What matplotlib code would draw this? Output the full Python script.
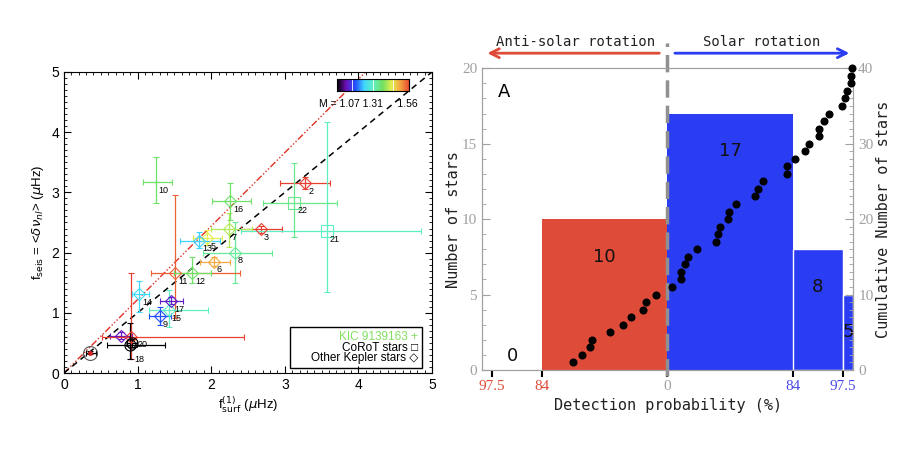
import matplotlib
matplotlib.use('Agg')
import matplotlib.pyplot as plt
from matplotlib.colors import LinearSegmentedColormap, Normalize
from matplotlib.patches import Rectangle
import numpy as np

# ---- left panel: seismic vs surface splitting ----
star_ids = ['1', '2', '3', '4', '5', '6', '7', '8', '9', '10', '11', '12',
            '13', '14', '15', '16', '17', '18', '20', 'sun', '21', '22']
star_kind = ['K', 'K', 'K', 'K', 'K', 'K', 'K', 'K', 'K', 'KIC', 'K', 'K',
             'K', 'K', 'K', 'K', 'K', 'O', 'O', 'S', 'C', 'C']
f_surf = [0.78, 3.28, 2.68, 0.91, 1.94, 2.04, 2.24, 2.32, 1.30, 1.25, 1.51, 1.74,
          1.84, 1.02, 1.42, 2.26, 1.46, 0.90, 0.92, 0.36, 3.57, 3.13]
f_surf_lo = [0.62, 2.94, 2.41, 0.52, 1.75, 1.85, 2.00, 1.89, 1.15, 1.07, 1.18, 1.50,
             1.57, 0.92, 1.15, 2.01, 1.30, 0.58, 0.85, 0.30, 2.41, 2.71]
f_surf_hi = [0.92, 3.61, 2.96, 2.45, 2.15, 2.26, 2.55, 2.83, 1.46, 1.47, 2.39, 2.00,
             2.12, 1.15, 1.96, 2.54, 1.62, 1.37, 0.99, 0.43, 4.85, 3.71]
f_seis = [0.62, 3.16, 2.39, 0.60, 2.24, 1.85, 2.39, 2.00, 0.95, 3.17, 1.66, 1.66,
          2.20, 1.31, 1.05, 2.85, 1.20, 0.46, 0.50, 0.34, 2.36, 2.83]
f_seis_lo = [0.57, 3.06, 2.33, 0.24, 2.12, 1.78, 2.10, 1.49, 0.80, 2.83, 0.92, 1.49,
             2.07, 1.02, 0.77, 2.54, 1.14, 0.24, 0.43, 0.31, 1.35, 2.26]
f_seis_hi = [0.68, 3.26, 2.45, 1.66, 2.38, 1.92, 2.65, 2.51, 1.10, 3.58, 2.96, 1.93,
             2.35, 1.52, 1.38, 3.15, 1.27, 0.83, 0.57, 0.37, 4.17, 3.48]
star_mass = [1.04, 1.60, 1.60, 1.60, 1.44, 1.51, 1.40, 1.31, 1.11, 1.35, 1.57, 1.35,
             1.19, 1.20, 1.27, 1.35, 1.05, 0.95, 0.95, 0.95, 1.27, 1.32]
fit_slope = 1.22

# ---- right panel: detection probability histogram ----
bin_edges = [-1.47, -0.99, 0.0, 1.0, 1.395, 1.48]
bin_counts = [0, 10, 17, 8, 5]
prob_tick_pos = [-1.39, -0.99, 0.0, 1.0, 1.395]
prob_tick_lab = ['97.5', '84', '0', '84', '97.5']
cum_x = [-0.745, -0.676, -0.615, -0.599, -0.451, -0.353, -0.286, -0.191, -0.167, -0.088,
         0.037, 0.109, 0.114, 0.143, 0.167, 0.241, 0.385, 0.401, 0.422, 0.480,
         0.488, 0.544, 0.698, 0.719, 0.761, 0.952, 0.955, 1.013, 1.098, 1.125,
         1.204, 1.207, 1.244, 1.289, 1.390, 1.416, 1.430, 1.462, 1.465, 1.469]
cum_n = [1, 2, 3, 4, 5, 6, 7, 8, 9, 10, 11, 12, 13, 14, 15, 16, 17, 18, 19, 20,
         21, 22, 23, 24, 25, 26, 27, 28, 29, 30, 31, 32, 33, 34, 35, 36, 37, 38, 39, 40]

RED = '#de4b38'
BLUE = '#2b3df2'
GREY = '#a0a0a0'

cmap = LinearSegmentedColormap.from_list('idl', ['#000000', '#7010b8', '#2050ff', '#40d8ff',
                                                 '#60f0c0', '#70e060', '#e6f050', '#f4a040',
                                                 '#e84030'])
norm = Normalize(vmin=0.95, vmax=1.60)

fig = plt.figure(figsize=(9.0, 4.53), dpi=100)
plt.rcParams['font.family'] = 'Liberation Sans'

ax = fig.add_axes([0.0711, 0.1766, 0.4089, 0.6645])
ax.axline((0, 0), slope=fit_slope, color='#e03020', lw=1.0, ls=(0, (5, 1.5, 1, 1.5, 1, 1.5, 1, 1.5)))
ax.axline((0, 0), slope=1.0, color='black', lw=1.1, ls=(0, (4, 3)))

marker_for = {'K': 'D', 'C': 's', 'O': 'o', 'S': 'o', 'KIC': '+'}
label_off = {'18': (3, -10), '20': (4, -1), '5': (3, -6)}
for i, sid in enumerate(star_ids):
    c = cmap(norm(star_mass[i]))
    x, y = f_surf[i], f_seis[i]
    xerr = [[x - f_surf_lo[i]], [f_surf_hi[i] - x]]
    yerr = [[y - f_seis_lo[i]], [f_seis_hi[i] - y]]
    mk = marker_for[star_kind[i]]
    ms = 6.5 if mk == 'D' else 8
    mec = c
    if star_kind[i] == 'KIC':
        ms = 4
    if star_kind[i] == 'S':
        ms = 10
        mec = '#555555'
    ax.errorbar([x], [y], xerr=xerr, yerr=yerr, fmt=mk, ms=ms, mfc='none', mec=mec,
                ecolor=c, color=c, lw=0.9, elinewidth=0.9, capsize=2, mew=0.8, zorder=3)
    if star_kind[i] == 'S':
        ax.plot([x], [y], 'o', color='#d02020', ms=2.5, zorder=4)
    else:
        ax.annotate(sid, (x, y), xytext=label_off.get(sid, (2, -6)), textcoords='offset points',
                    fontsize=6.5, ha='left', va='center', zorder=5)

ax.set_xlim(0, 5)
ax.set_ylim(0, 5)
ax.set_xticks([0, 1, 2, 3, 4, 5])
ax.set_yticks([0, 1, 2, 3, 4, 5])
ax.set_xticks(np.arange(0, 5.01, 0.1), minor=True)
ax.set_yticks(np.arange(0, 5.01, 0.1), minor=True)
ax.tick_params(which='both', direction='in', top=True, right=True, labelsize=10)
ax.tick_params(which='major', length=5)
ax.tick_params(which='minor', length=2.5)
ax.set_xlabel(r'f$^{(1)}_{\rm surf}$ ($\mu$Hz)', fontsize=9.5, labelpad=2)
ax.set_ylabel(r'f$_{\rm seis}$ = <$\delta\nu_{nl}$> ($\mu$Hz)', fontsize=9.5, labelpad=4)

# mass colour bar
cax = ax.inset_axes([0.742, 0.937, 0.196, 0.04])
cax.imshow(np.linspace(0, 1, 256)[None, :], aspect='auto', cmap=cmap, extent=[0, 1, 0, 1])
for p in [0.21, 0.50, 0.78]:
    cax.axvline(p, color='white', lw=0.6)
cax.set_xticks([])
cax.set_yticks([])
ax.text(0.962, 0.895, 'M = 1.07 1.31     1.56', transform=ax.transAxes, ha='right',
        va='center', fontsize=7.5)

# legend box
ax.add_patch(Rectangle((0.614, 0.016), 0.358, 0.136, transform=ax.transAxes,
                       fill=False, ec='black', lw=1.0, zorder=6))
ax.text(0.962, 0.118, 'KIC 9139163 +', color='#80e060', transform=ax.transAxes,
        ha='right', va='center', fontsize=8.5)
ax.text(0.962, 0.084, 'CoRoT stars \u25a1', color='black', transform=ax.transAxes,
        ha='right', va='center', fontsize=8.5, family=['Liberation Sans', 'DejaVu Sans'])
ax.text(0.962, 0.050, 'Other Kepler stars \u25c7', color='black', transform=ax.transAxes,
        ha='right', va='center', fontsize=8.5, family=['Liberation Sans', 'DejaVu Sans'])

# ---- right panel ----
axr = fig.add_axes([0.5356, 0.1833, 0.4126, 0.666])
widths = np.diff(bin_edges)
bar_cols = ['white', RED, BLUE, BLUE, BLUE]
bar_edge = ['none', 'none', 'none', 'white', 'white']
axr.bar(bin_edges[:-1], bin_counts, width=widths, align='edge', color=bar_cols,
        edgecolor=bar_edge, lw=1.0, zorder=1)
for i, n in enumerate(bin_counts):
    xc = bin_edges[i] + widths[i] / 2
    axr.text(xc, max(n - 2.5, 0.9), str(n), ha='center', va='center', fontsize=13,
             family='DejaVu Sans', color='#111111', clip_on=True, zorder=5)
axr.set_xlim(bin_edges[0], bin_edges[-1])
axr.set_ylim(0, 20)
axr.plot([0, 0], [-0.4, 21.7], color='#909090', lw=2.5, ls=(0, (5, 2.3)),
         clip_on=False, zorder=3)

axr.annotate('', xy=(-1.45, 21.0), xytext=(-0.04, 21.0), annotation_clip=False,
             arrowprops=dict(arrowstyle='->', color=RED, lw=2, mutation_scale=16))
axr.annotate('', xy=(1.47, 21.0), xytext=(0.04, 21.0), annotation_clip=False,
             arrowprops=dict(arrowstyle='->', color=BLUE, lw=2, mutation_scale=16))
axr.text(-0.725, 21.75, 'Anti-solar rotation', ha='center', va='center', fontsize=10,
         family='DejaVu Sans Mono', color='#222222')
axr.text(0.75, 21.75, 'Solar rotation', ha='center', va='center', fontsize=10,
         family='DejaVu Sans Mono', color='#222222')
axr.text(0.06, 0.92, 'A', transform=axr.transAxes, fontsize=13, family='DejaVu Sans',
         ha='center', va='center')

axr.set_yticks([0, 5, 10, 15, 20])
axr.set_yticks(np.arange(0, 20.1, 1), minor=True)
axr.set_xticks(prob_tick_pos)
axr.set_xticklabels(prob_tick_lab)
tick_cols = [RED, RED, GREY, '#4a4ae8', '#4a4ae8']
for t, c in zip(axr.get_xticklabels(), tick_cols):
    t.set_color(c)
for t, c in zip(axr.xaxis.get_major_ticks(), tick_cols):
    t.tick1line.set_color(c)
axr.tick_params(axis='x', direction='out', length=5, width=1.5, labelsize=11, pad=2)
axr.tick_params(axis='y', which='both', direction='in', colors=GREY, labelsize=11)
axr.tick_params(axis='y', which='major', length=6)
axr.tick_params(axis='y', which='minor', length=3)
for lab in axr.get_xticklabels() + axr.get_yticklabels():
    lab.set_family('Liberation Serif')
for s in axr.spines.values():
    s.set_color(GREY)
axr.set_xlabel('Detection probability (%)', fontsize=11, family='DejaVu Sans Mono',
               labelpad=4, color='#222222')
axr.set_ylabel('Number of stars', fontsize=11, family='DejaVu Sans Mono', labelpad=1,
               color='#222222')

ax2 = axr.twinx()
ax2.plot(cum_x, cum_n, 'o', color='black', ms=4.8, zorder=6, clip_on=False)
ax2.set_ylim(0, 40)
ax2.set_yticks([0, 10, 20, 30, 40])
ax2.set_yticks(np.arange(0, 40.1, 1), minor=True)
ax2.tick_params(axis='y', which='both', direction='in', colors=GREY, labelsize=11)
ax2.tick_params(axis='y', which='major', length=6)
ax2.tick_params(axis='y', which='minor', length=3)
for lab in ax2.get_yticklabels():
    lab.set_family('Liberation Serif')
for s in ax2.spines.values():
    s.set_color(GREY)
ax2.set_ylabel('Cumulative Number of stars', fontsize=11, family='DejaVu Sans Mono',
               labelpad=2, color='#222222')

fig.savefig('out.png', dpi=100)
